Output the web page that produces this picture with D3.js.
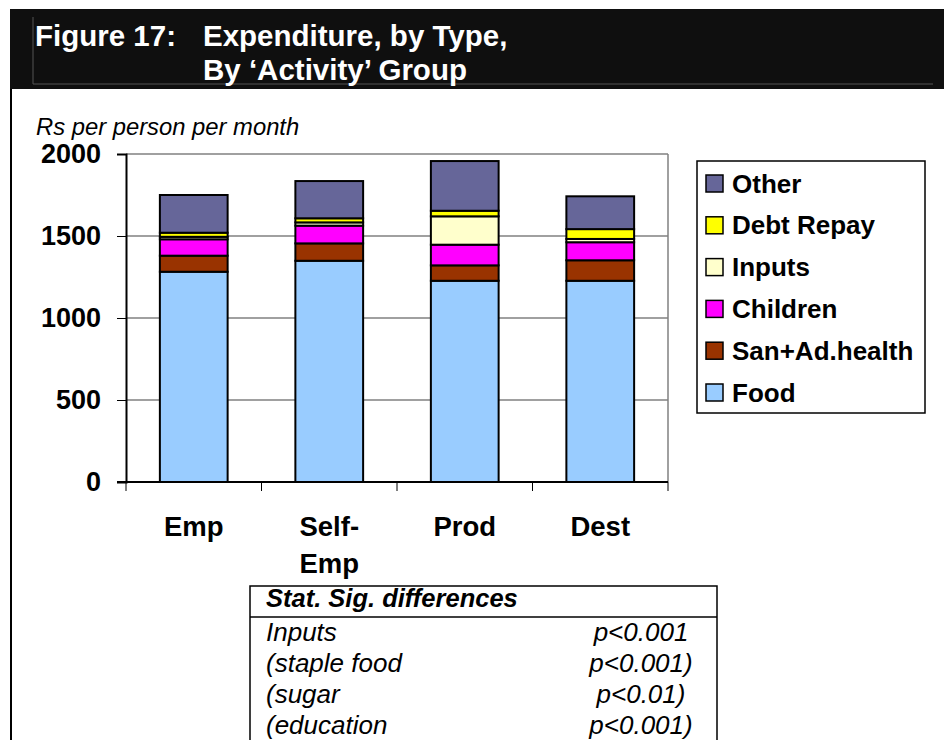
<!DOCTYPE html>
<html>
<head>
<meta charset="utf-8">
<script src="https://cdn.jsdelivr.net/npm/d3@7"></script>
<style>
  html, body { margin: 0; padding: 0; background: #fff; }
  svg { display: block; font-family: Arial, "Liberation Sans", sans-serif; }
</style>
</head>
<body>
<svg id="chart" width="944" height="740"></svg>
<script>
// Expenditure by type, stacked per activity group (Rs per person per month)
const groups     = ['Emp', 'Self-Emp', 'Prod', 'Dest'];
const food       = [1282, 1349, 1227, 1227];
const sanHealth  = [98, 106, 94, 125];
const children   = [100, 108, 126, 110];
const inputs     = [15, 20, 173, 20];
const debtRepay  = [25, 25, 34, 60];
const other      = [230, 227, 303, 200];

const seriesNames = ['Food', 'San+Ad.health', 'Children', 'Inputs', 'Debt Repay', 'Other'];
const seriesData  = [food, sanHealth, children, inputs, debtRepay, other];
const colors      = ['#99ccff', '#993300', '#ff00ff', '#ffffcc', '#ffff00', '#666699'];
const yTicks      = [0, 500, 1000, 1500, 2000];

const sigRows = [
  ['Inputs', 'p<0.001'],
  ['(staple food', 'p<0.001)'],
  ['(sugar', 'p<0.01)'],
  ['(education', 'p<0.001)']
];

const svg = d3.select('#chart');

// header band
svg.append('rect').attr('x', 10).attr('y', 9).attr('width', 934).attr('height', 80).attr('fill', '#0f0f0f');
svg.append('path').attr('d', 'M33,17 V84 H933').attr('fill', 'none').attr('stroke', '#555').attr('stroke-width', 1);
const title = svg.append('g').attr('fill', '#fff').attr('font-weight', 'bold').attr('font-size', 29.5);
title.append('text').attr('x', 35).attr('y', 46).text('Figure 17:');
title.append('text').attr('x', 203).attr('y', 46).text('Expenditure, by Type,');
title.append('text').attr('x', 203).attr('y', 80).text('By \u2018Activity\u2019 Group');

// left page border
svg.append('line').attr('x1', 11).attr('x2', 11).attr('y1', 89).attr('y2', 740).attr('stroke', '#000').attr('stroke-width', 2);

// plot
const plot = { left: 126, right: 668, top: 154, bottom: 482 };
const x = d3.scaleBand().domain(groups).range([plot.left, plot.right]).paddingInner(0.5).paddingOuter(0.25);
const xb = d3.scaleBand().domain(groups).range([plot.left, plot.right]);
const y = d3.scaleLinear().domain([0, 2000]).range([plot.bottom, plot.top]);

svg.append('text').attr('x', 36).attr('y', 135).attr('font-style', 'italic').attr('font-size', 23.8)
  .text('Rs per person per month');

// gridlines
svg.append('g').selectAll('line').data(yTicks.filter(d => d > 0)).join('line')
  .attr('x1', plot.left).attr('x2', plot.right)
  .attr('y1', d => y(d)).attr('y2', d => y(d))
  .attr('stroke', '#808080').attr('stroke-width', 1.5);
// right frame
svg.append('line').attr('x1', plot.right).attr('x2', plot.right).attr('y1', plot.top).attr('y2', plot.bottom)
  .attr('stroke', '#808080').attr('stroke-width', 1.5);

// stacked bars
const table = groups.map((g, i) => {
  const row = { group: g };
  seriesNames.forEach((s, k) => { row[s] = seriesData[k][i]; });
  return row;
});
const stacked = d3.stack().keys(seriesNames)(table);

svg.append('g').selectAll('g').data(stacked).join('g')
  .attr('fill', (d, i) => colors[i])
  .selectAll('rect').data(d => d).join('rect')
  .attr('x', d => x(d.data.group))
  .attr('width', x.bandwidth())
  .attr('y', d => y(d[1]))
  .attr('height', d => y(d[0]) - y(d[1]))
  .attr('stroke', '#000').attr('stroke-width', 2);

// y axis
const yAxis = svg.append('g').attr('transform', `translate(${plot.left},0)`)
  .call(d3.axisLeft(y).tickValues(yTicks).tickSize(9).tickPadding(16).tickFormat(d3.format('d')));
yAxis.select('.domain').attr('stroke-width', 2);
yAxis.selectAll('.tick line').attr('stroke', '#000').attr('stroke-width', 1);
yAxis.selectAll('.tick text').attr('font-size', 27).attr('font-weight', 'bold').attr('fill', '#000')
  .attr('font-family', 'Arial, "Liberation Sans", sans-serif');

// x axis with ticks at band edges
const xAxisG = svg.append('g');
xAxisG.append('line').attr('x1', plot.left - 9).attr('x2', plot.right).attr('y1', plot.bottom).attr('y2', plot.bottom)
  .attr('stroke', '#000').attr('stroke-width', 2);
const edges = groups.map(g => xb(g)).concat([plot.right]);
xAxisG.selectAll('.xt').data(edges).join('line')
  .attr('x1', d => d).attr('x2', d => d).attr('y1', plot.bottom).attr('y2', plot.bottom + 9)
  .attr('stroke', '#000').attr('stroke-width', 1);
const xLabels = xAxisG.selectAll('.xl').data(groups).join('text')
  .attr('text-anchor', 'middle').attr('font-size', 27.5).attr('font-weight', 'bold')
  .attr('x', d => xb(d) + xb.bandwidth() / 2).attr('y', 536);
xLabels.each(function(d) {
  const parts = d.includes('-') ? [d.split('-')[0] + '-', d.split('-')[1]] : [d];
  d3.select(this).selectAll('tspan').data(parts).join('tspan')
    .attr('x', xb(d) + xb.bandwidth() / 2)
    .attr('dy', (p, i) => i === 0 ? 0 : 37)
    .text(p => p);
});

// legend
const legend = svg.append('g');
legend.append('rect').attr('x', 697).attr('y', 161).attr('width', 228).attr('height', 252)
  .attr('fill', '#fff').attr('stroke', '#000').attr('stroke-width', 1.5);
const legendItems = seriesNames.map((s, i) => ({ name: s, color: colors[i] })).reverse();
const li = legend.selectAll('g.item').data(legendItems).join('g')
  .attr('transform', (d, i) => `translate(706,${183 + i * 41.8})`);
li.append('rect').attr('x', 0).attr('y', -8).attr('width', 17).attr('height', 17)
  .attr('fill', d => d.color).attr('stroke', '#000').attr('stroke-width', 1.5);
li.append('text').attr('x', 26).attr('y', 9.5).attr('font-size', 26).attr('font-weight', 'bold').text(d => d.name);

// significance table
const tb = svg.append('g');
tb.append('path').attr('d', 'M250,740 V586 H717 V740').attr('fill', 'none').attr('stroke', '#000').attr('stroke-width', 1.5);
tb.append('line').attr('x1', 250).attr('x2', 717).attr('y1', 617).attr('y2', 617).attr('stroke', '#000').attr('stroke-width', 1.5);
tb.append('text').attr('x', 266).attr('y', 607).attr('font-size', 25.5).attr('font-weight', 'bold').attr('font-style', 'italic')
  .text('Stat. Sig. differences');
const rows = tb.selectAll('g.row').data(sigRows).join('g')
  .attr('transform', (d, i) => `translate(0,${641 + i * 31})`);
rows.append('text').attr('x', 266).attr('font-size', 26).attr('font-style', 'italic').text(d => d[0]);
rows.append('text').attr('x', 641).attr('text-anchor', 'middle').attr('font-size', 26).attr('font-style', 'italic').text(d => d[1]);
</script>
</body>
</html>
